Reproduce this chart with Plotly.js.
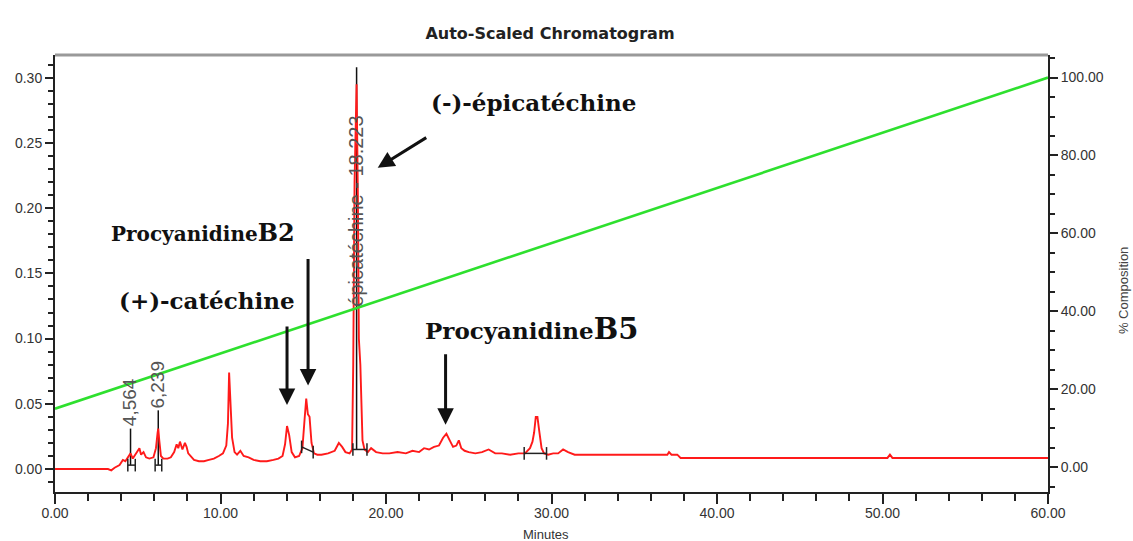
<!DOCTYPE html>
<html>
<head>
<meta charset="utf-8">
<script src="https://cdn.plot.ly/plotly-3.0.1.min.js"></script>
<style>html,body{margin:0;padding:0;background:#fff;}#chart{width:1133px;height:541px;}</style>
</head>
<body>
<div id="chart"></div>
<script>
// Chromatogram (absorbance vs retention time, minutes)
var time = [0, 3.2, 3.4, 3.6, 3.9, 4.1, 4.25, 4.4, 4.564, 4.7, 4.85, 5.0, 5.1, 5.2, 5.35, 5.5, 5.7, 5.95, 6.1, 6.2, 6.239, 6.3, 6.4, 6.55, 6.8, 7.0, 7.2, 7.35, 7.45, 7.55, 7.7, 7.85, 7.95, 8.05, 8.2, 8.4, 8.7, 9.0, 9.3, 9.6, 9.9, 10.15, 10.35, 10.45, 10.52, 10.6, 10.7, 10.85, 11.0, 11.2, 11.4, 11.7, 12.0, 12.4, 12.8, 13.2, 13.5, 13.75, 13.9, 14.02, 14.15, 14.3, 14.5, 14.75, 14.95, 15.08, 15.18, 15.28, 15.38, 15.5, 15.65, 15.85, 16.1, 16.5, 16.9, 17.15, 17.35, 17.55, 17.8, 17.95, 18.02, 18.1, 18.223, 18.3, 18.36, 18.45, 18.52, 18.58, 18.7, 18.9, 19.1, 19.4, 19.8, 20.2, 20.7, 21.2, 21.6, 22.0, 22.3, 22.6, 22.9, 23.2, 23.45, 23.65, 23.85, 24.05, 24.25, 24.4, 24.55, 24.75, 25.0, 25.4, 25.8, 26.2, 26.6, 27.0, 27.5, 28.0, 28.4, 28.7, 28.85, 28.95, 29.05, 29.15, 29.25, 29.4, 29.55, 29.8, 30.1, 30.4, 30.7, 31.0, 31.4, 32.0, 33.5, 35.0, 36.5, 37.0, 37.1, 37.25, 37.6, 37.8, 40, 45, 50.3, 50.45, 50.6, 55, 60];
var absorbance = [0, 0, -0.001, 0.001, 0.003, 0.007, 0.006, 0.009, 0.012, 0.008, 0.011, 0.014, 0.016, 0.011, 0.013, 0.009, 0.008, 0.009, 0.016, 0.028, 0.031, 0.022, 0.010, 0.008, 0.008, 0.009, 0.013, 0.019, 0.016, 0.021, 0.015, 0.020, 0.017, 0.012, 0.010, 0.007, 0.006, 0.006, 0.007, 0.008, 0.010, 0.012, 0.018, 0.035, 0.074, 0.045, 0.024, 0.013, 0.011, 0.014, 0.010, 0.009, 0.007, 0.006, 0.006, 0.007, 0.008, 0.010, 0.019, 0.033, 0.026, 0.013, 0.009, 0.010, 0.016, 0.038, 0.054, 0.042, 0.040, 0.020, 0.012, 0.011, 0.011, 0.012, 0.014, 0.020, 0.017, 0.013, 0.012, 0.015, 0.08, 0.22, 0.295, 0.21, 0.10, 0.08, 0.05, 0.022, 0.015, 0.013, 0.016, 0.013, 0.012, 0.012, 0.013, 0.012, 0.014, 0.013, 0.016, 0.015, 0.017, 0.018, 0.024, 0.027, 0.022, 0.017, 0.018, 0.022, 0.016, 0.014, 0.013, 0.012, 0.013, 0.015, 0.012, 0.012, 0.011, 0.012, 0.012, 0.016, 0.021, 0.028, 0.040, 0.040, 0.030, 0.016, 0.012, 0.011, 0.012, 0.012, 0.015, 0.013, 0.011, 0.011, 0.011, 0.011, 0.011, 0.011, 0.013, 0.011, 0.011, 0.0085, 0.0085, 0.0085, 0.0085, 0.011, 0.0085, 0.0085, 0.0085];

// Solvent gradient (% composition)
var gradientTime = [0, 60];
var gradientPct = [15, 100];

// Labelled peaks
var peakTimes = [4.564, 6.239, 18.223];
var peakBase = [0.003, 0.003, 0.015];
var peakTop = [0.031, 0.045, 0.308];
var peakLabels = ["4,564", "6,239", "épicatéchine - 18.223"];

// Integration baselines
var intStart = [4.4, 6.05, 14.9, 18.0, 28.35];
var intEnd = [4.85, 6.45, 15.6, 18.85, 29.7];
var intLevelStart = [0.003, 0.003, 0.017, 0.015, 0.012];
var intLevelEnd = [0.003, 0.003, 0.013, 0.015, 0.012];

// Compound annotations
var compoundNames = ["ProcyanidineB2", "(+)-catéchine", "(-)-épicatéchine", "ProcyanidineB5"];

var tickX = [0, 10, 20, 30, 40, 50, 60];
var tickY = [0, 0.05, 0.10, 0.15, 0.20, 0.25, 0.30];
var tickY2 = [0, 20, 40, 60, 80, 100];

// build traces
var pmx = [], pmy = [];
for (var i = 0; i < peakTimes.length; i++) {
  pmx.push(peakTimes[i], peakTimes[i], null);
  pmy.push(peakBase[i], peakTop[i], null);
}
var ix = [], iy = [];
for (var j = 0; j < intStart.length; j++) {
  ix.push(intStart[j], intEnd[j], null);
  iy.push(intLevelStart[j], intLevelEnd[j], null);
}

var traces = [
  {x: pmx, y: pmy, mode: 'lines', line: {color: '#111', width: 1.5}, hoverinfo: 'skip', showlegend: false},
  {x: time, y: absorbance, mode: 'lines', line: {color: '#ff1a1a', width: 1.9}, showlegend: false},
  {x: ix, y: iy, mode: 'lines+markers', line: {color: '#222', width: 1.5},
   marker: {symbol: 'line-ns-open', size: 9, line: {color: '#111', width: 1.5}}, showlegend: false},
  {x: gradientTime, y: gradientPct, yaxis: 'y2', mode: 'lines', line: {color: '#2ee02e', width: 2.6}, showlegend: false}
];

var tickFont = {family: 'Liberation Sans, Arial, sans-serif', size: 14, color: '#333'};
var serif = 'DejaVu Serif, serif';

var annotations = [];
// rotated peak labels
var labelBottom = [0.031, 0.045, 0.123];
for (var k = 0; k < peakTimes.length; k++) {
  annotations.push({x: peakTimes[k], y: labelBottom[k], xref: 'x', yref: 'y',
    text: peakLabels[k], textangle: -90, showarrow: false, xanchor: 'center', yanchor: 'bottom',
    xshift: -1, font: {family: 'Liberation Sans, Arial, sans-serif', size: (k === 2 ? 20 : 19), color: '#555'}});
}
// compound labels
annotations.push({x: 8.94, y: 0.181, xref: 'x', yref: 'y', showarrow: false,
  text: '<b>Procyanidine<span style="font-size:24px">B2</span></b>', font: {family: serif, size: 20, color: '#111'}});
annotations.push({x: 9.2, y: 0.129, xref: 'x', yref: 'y', showarrow: false,
  text: '<b>' + compoundNames[1] + '</b>', font: {family: serif, size: 23, color: '#111'}});
annotations.push({x: 28.9, y: 0.281, xref: 'x', yref: 'y', showarrow: false,
  text: '<b>' + compoundNames[2] + '</b>', font: {family: serif, size: 23, color: '#111'}});
annotations.push({x: 28.8, y: 0.107, xref: 'x', yref: 'y', showarrow: false,
  text: '<b>Procyanidine<span style="font-size:29px">B5</span></b>', font: {family: serif, size: 23, color: '#111'}});
// arrows
var arrowStyle = {showarrow: true, arrowhead: 2, arrowsize: 1.1, arrowwidth: 3, arrowcolor: '#111', text: '', xref: 'x', yref: 'y'};
function arrow(x, y, ax, ay) { var a = Object.assign({}, arrowStyle); a.x = x; a.y = y; a.ax = ax; a.ay = ay; return a; }
annotations.push(arrow(14.02, 0.049, 0, -80));
annotations.push(arrow(15.29, 0.064, 0, -128));
annotations.push(arrow(23.6, 0.034, 0, -72));
annotations.push(arrow(19.5, 0.231, 50, -31));
// axis titles
annotations.push({x: 0.494, y: -0.098, xref: 'paper', yref: 'paper', showarrow: false, text: 'Minutes',
  xanchor: 'center', yanchor: 'middle', font: {family: 'Liberation Sans, Arial, sans-serif', size: 13, color: '#333'}});
annotations.push({x: 1.0755, y: 0.462, xref: 'paper', yref: 'paper', showarrow: false, text: '% Composition',
  textangle: -90, xanchor: 'center', yanchor: 'middle', font: {family: 'Liberation Sans, Arial, sans-serif', size: 13, color: '#444'}});

var layout = {
  width: 1133, height: 541,
  margin: {l: 55, r: 85, t: 55, b: 49},
  paper_bgcolor: '#fff', plot_bgcolor: '#fff',
  title: {text: '<b>Auto-Scaled Chromatogram</b>', x: 550/1133, xanchor: 'center', y: 1 - 33/541, yanchor: 'middle',
    font: {family: 'DejaVu Sans, sans-serif', size: 16, color: '#222'}},
  xaxis: {range: [0, 60], tickvals: tickX, ticktext: tickX.map(function(v){return v.toFixed(2);}),
    ticks: 'outside', ticklen: 10, tickwidth: 2, tickcolor: '#222', ticklabelstandoff: -3,
    minor: {dtick: 2, ticks: 'outside', ticklen: 7, tickwidth: 2, tickcolor: '#222'},
    showline: true, linecolor: '#222', linewidth: 2, showgrid: false, zeroline: false, tickfont: tickFont, fixedrange: true},
  yaxis: {range: [-0.0176, 0.3174], tickvals: tickY, ticktext: tickY.map(function(v){return v.toFixed(2);}),
    ticks: 'outside', ticklen: 8, tickwidth: 2, tickcolor: '#222',
    minor: {dtick: 0.01, tick0: 0, ticks: 'outside', ticklen: 5, tickwidth: 2, tickcolor: '#222'},
    showline: true, linecolor: '#222', linewidth: 2, showgrid: false, zeroline: false, tickfont: tickFont},
  yaxis2: {overlaying: 'y', side: 'right', range: [-6.4, 105.8], tickvals: tickY2, ticktext: tickY2.map(function(v){return v.toFixed(2);}),
    ticks: 'outside', ticklen: 8, tickwidth: 2, tickcolor: '#222',
    minor: {dtick: 5, tick0: 0, ticks: 'outside', ticklen: 5, tickwidth: 2, tickcolor: '#222'},
    showline: true, linecolor: '#222', linewidth: 2, showgrid: false, zeroline: false, tickfont: tickFont},
  shapes: [{type: 'line', xref: 'paper', yref: 'paper', x0: 0, x1: 1, y0: 1, y1: 1, line: {color: '#999', width: 3}}],
  annotations: annotations,
  showlegend: false
};

Plotly.newPlot('chart', traces, layout, {displayModeBar: false, staticPlot: true});
</script>
</body>
</html>
